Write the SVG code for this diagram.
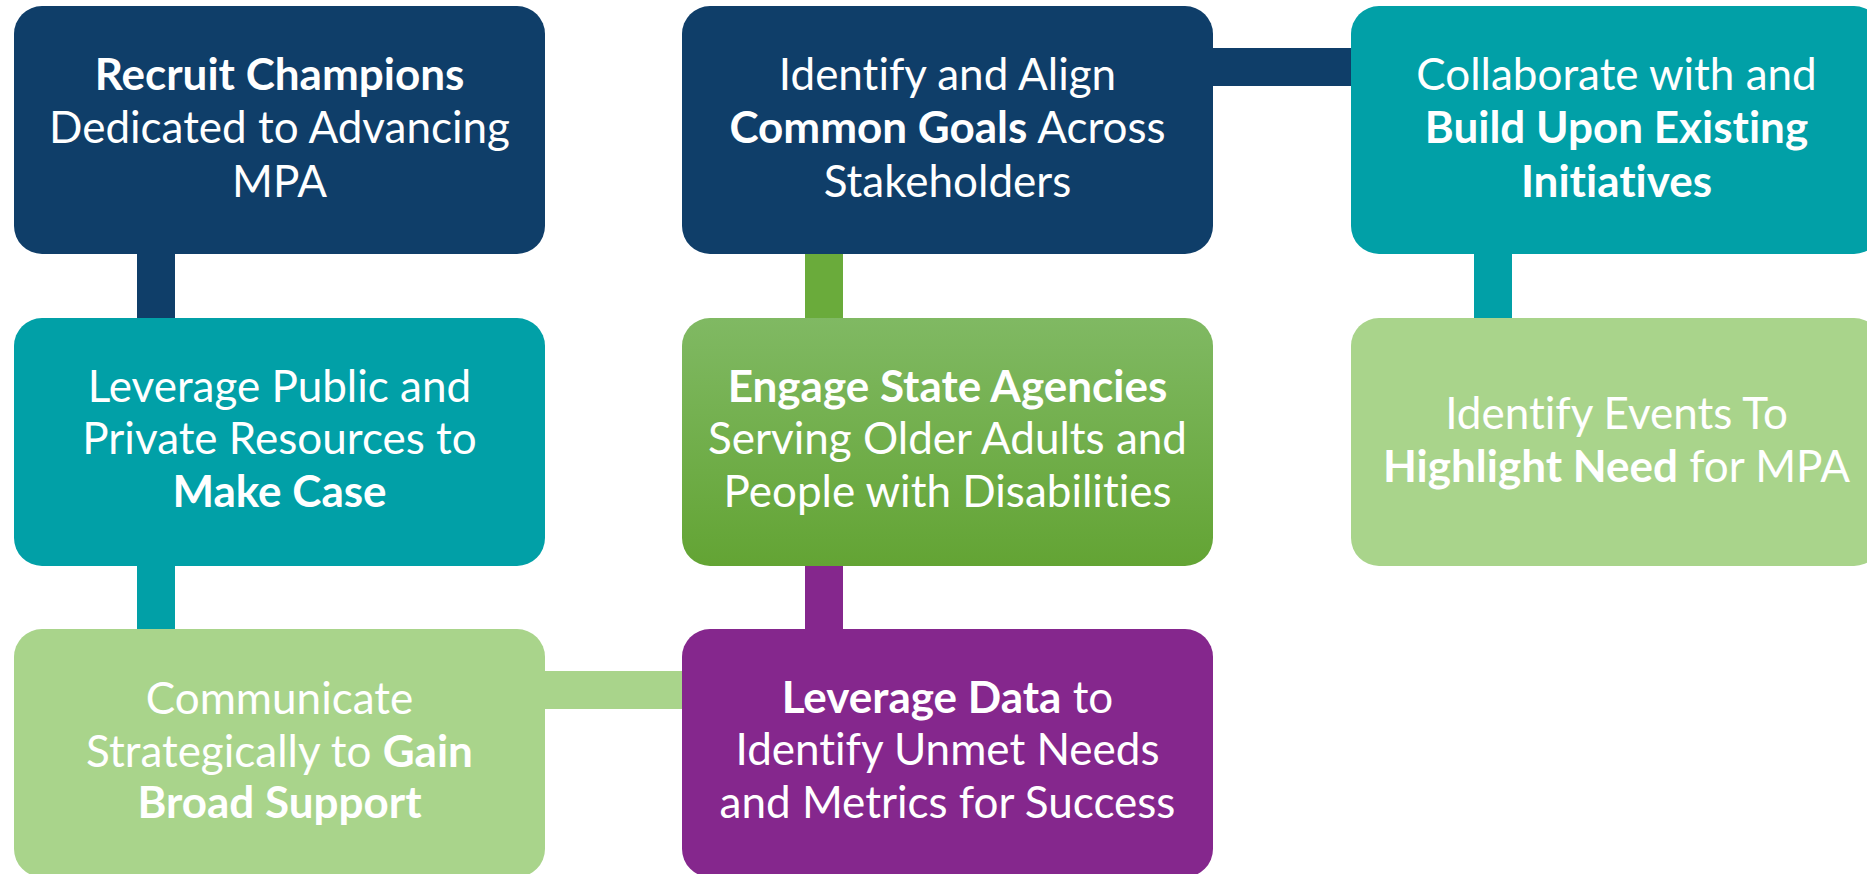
<svg xmlns="http://www.w3.org/2000/svg" width="1867" height="874" viewBox="0 0 1867 874">
<style>
.t{font-family:Lato,"Open Sans","Liberation Sans",sans-serif;font-size:44px;fill:#ffffff;text-anchor:middle;font-weight:400;font-variant-ligatures:none}
.b{font-weight:700}
.navy{fill:#0F3E69}
.teal{fill:#01A0A7}
.lgreen{fill:#A9D48B}
.purple{fill:#85278D}
</style>
<defs>
<linearGradient id="gGreen" x1="0" y1="0" x2="0" y2="1">
<stop offset="0" stop-color="#80B963"/>
<stop offset="1" stop-color="#63A434"/>
</linearGradient>
</defs>
<rect width="1867" height="874" fill="#ffffff"/>
<g id="connectors">
<rect class="navy" x="137" y="250" width="38" height="72"/>
<rect class="teal" x="137" y="562" width="38" height="72"/>
<rect class="lgreen" x="541" y="671" width="145" height="38"/>
<rect class="purple" x="805" y="562" width="38" height="72"/>
<rect fill="#6AAB3B" x="805" y="250" width="38" height="72"/>
<rect class="navy" x="1209" y="48" width="146" height="38"/>
<rect class="teal" x="1474" y="250" width="38" height="72"/>
</g>
<g id="n1">
<rect class="navy" x="14" y="6" width="531" height="248" rx="28"/>
<text class="t" x="279.5" y="90"><tspan class="b">Recruit Champions</tspan></text>
<text class="t" x="279.5" y="143">Dedicated to Advancing</text>
<text class="t" x="279.5" y="197">MPA</text>
</g>
<g id="n2">
<rect class="navy" x="682" y="6" width="531" height="248" rx="28"/>
<text class="t" x="947.5" y="90">Identify and Align</text>
<text class="t" x="947.5" y="143"><tspan class="b">Common Goals</tspan> Across</text>
<text class="t" x="947.5" y="197">Stakeholders</text>
</g>
<g id="n3">
<rect class="teal" x="1351" y="6" width="531" height="248" rx="28"/>
<text class="t" x="1616.5" y="90">Collaborate with and</text>
<text class="t" x="1616.5" y="143"><tspan class="b">Build Upon Existing</tspan></text>
<text class="t" x="1616.5" y="197"><tspan class="b">Initiatives</tspan></text>
</g>
<g id="n4">
<rect class="teal" x="14" y="318" width="531" height="248" rx="28"/>
<text class="t" x="279.5" y="402">Leverage Public and</text>
<text class="t" x="279.5" y="454">Private Resources to</text>
<text class="t" x="279.5" y="507"><tspan class="b">Make Case</tspan></text>
</g>
<g id="n5">
<rect fill="url(#gGreen)" x="682" y="318" width="531" height="248" rx="28"/>
<text class="t" x="947.5" y="402"><tspan class="b">Engage State Agencies</tspan></text>
<text class="t" x="947.5" y="454">Serving Older Adults and</text>
<text class="t" x="947.5" y="507">People with Disabilities</text>
</g>
<g id="n6">
<rect class="lgreen" x="1351" y="318" width="531" height="248" rx="28"/>
<text class="t" x="1616.5" y="429">Identify Events To</text>
<text class="t" x="1616.5" y="482"><tspan class="b">Highlight Need</tspan> for MPA</text>
</g>
<g id="n7">
<rect class="lgreen" x="14" y="629" width="531" height="248" rx="28"/>
<text class="t" x="279.5" y="714">Communicate</text>
<text class="t" x="279.5" y="767">Strategically to <tspan class="b">Gain</tspan></text>
<text class="t" x="279.5" y="818"><tspan class="b">Broad Support</tspan></text>
</g>
<g id="n8">
<rect class="purple" x="682" y="629" width="531" height="248" rx="28"/>
<text class="t" x="947.5" y="713"><tspan class="b">Leverage Data</tspan> to</text>
<text class="t" x="947.5" y="765">Identify Unmet Needs</text>
<text class="t" x="947.5" y="818">and Metrics for Success</text>
</g>
</svg>
